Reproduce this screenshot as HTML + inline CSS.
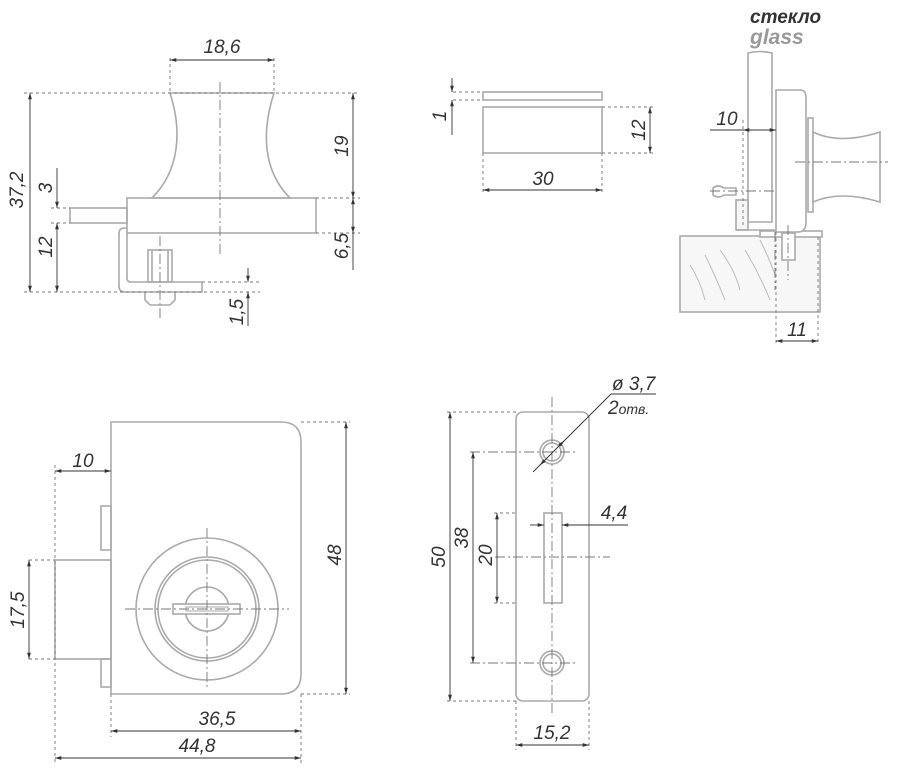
<!DOCTYPE html>
<html><head><meta charset="utf-8"><style>
html,body{margin:0;padding:0;background:#fff;}
svg{display:block;}
text{font-family:"Liberation Sans",sans-serif;font-style:italic;fill:#333;}
</style></head><body>
<svg width="900" height="775" viewBox="0 0 900 775" xmlns="http://www.w3.org/2000/svg">
<defs>
<marker id="a" viewBox="0 0 10 10" refX="10" refY="5" markerWidth="7" markerHeight="7" orient="auto-start-reverse"><path d="M0,2 L10,5 L0,8 z" fill="#333"/></marker>
</defs>
<g fill="none" stroke="#aaa" stroke-width="1.6">
<path d="M170,93 L274,93 C262,130 262,170 290,198 L152,198 C180,170 182,130 170,93 Z"/>
<rect x="127" y="198" width="189" height="35"/>
<rect x="70" y="208" width="57" height="15"/>
<path d="M127,228 L124,228 Q119,228 119,234 L119,286 Q119,292 125,292 L202,292 L202,282 L131,282 Q127,282 127,278 L127,233"/>
<rect x="148" y="250" width="24" height="32"/>
<line x1="152" y1="250" x2="152" y2="282"/><line x1="168" y1="250" x2="168" y2="282"/>
<path d="M145,292 L145,300 L150,305 L170,305 L175,300 L175,292"/>
<rect x="483" y="92" width="119" height="8"/>
<rect x="483" y="107" width="119" height="46"/>
<rect x="680" y="236" width="140" height="76" fill="#f7f7f7" stroke="#aaa"/>
<rect x="760" y="231" width="62" height="6" fill="#fff"/>
<path d="M748,53 L748,222 L772,222 L772,53 Q760,50 748,53 Z" fill="#fff"/>
<path d="M776,90 L800,90 Q806,90 806,98 L806,222 Q806,232 798,232 L776,232 Z" fill="#fff"/>
<rect x="736" y="200" width="12" height="30" fill="#f6f6f6"/>
<path d="M736,230 L776,230"/>
<path d="M713,188 Q718,184 724,188 L736,188 L736,195 L724,195 Q718,199 713,195 Z"/>
<rect x="808" y="118" width="5" height="94"/>
<path d="M813,132 Q840,145 880,132 L880,202 Q840,190 813,202 Z" fill="#fff"/>
<rect x="782" y="233" width="13" height="27" fill="#fff"/>
<path d="M690,265 Q700,280 705,300 M705,255 Q715,275 725,300 M720,250 Q735,270 740,290 M745,250 Q760,275 770,300 M760,240 Q770,260 775,275" stroke="#bbb" stroke-width="1"/>
<path d="M111,422 L281,422 Q301,422 301,442 L301,674 Q301,694 281,694 L111,694 Z"/>
<rect x="101" y="506" width="10" height="44"/>
<rect x="101" y="659" width="10" height="28"/>
<rect x="55" y="560" width="56" height="99"/>
<circle cx="207" cy="609" r="71"/>
<circle cx="207" cy="609" r="52"/>
<circle cx="207" cy="609" r="49"/>
<circle cx="207" cy="609" r="22"/>
<rect x="173" y="604" width="67" height="10" fill="#fff"/>
<rect x="186" y="607" width="42" height="4" stroke-width="1"/>
<rect x="516" y="412" width="73" height="289" rx="7"/>
<circle cx="552" cy="452" r="12"/><circle cx="552" cy="452" r="9"/>
<circle cx="552" cy="663" r="12"/><circle cx="552" cy="663" r="9"/>
<rect x="544" y="513" width="18" height="90"/>
</g>
<g fill="none" stroke="#777" stroke-width="0.9" stroke-dasharray="3,3">
<path d="M170,58 V93 M274,58 V93 M24,93 H360 M316,198 H360 M316,233 H360 M24,292 H260 M202,282 H260 M51,208 H70 M51,223 H70"/>
<path d="M480,92 H450 M480,100 H450 M602,107 H655 M602,153 H655 M483,153 V195 M602,153 V195"/>
<path d="M743,120 V228 M776,232 V345 M818,237 V345"/>
<path d="M55,465 V765 M111,694 V737 M301,694 V765 M29,560 H55 M29,659 H55 M301,422 H350 M301,694 H350"/>
<path d="M447,412 H516 M447,701 H516 M516,701 V750 M589,701 V750 M494,513 H516 M494,603 H516"/>
</g>
<g fill="none" stroke="#777" stroke-width="0.9" stroke-dasharray="10,3,2,3">
<path d="M220,82 V255 M160,236 V318 M795,162 H888 M710,191 H775 M788,225 V280 M775,232 V290"/>
<path d="M207,528 V690 M125,609 H289"/>
<path d="M552,397 V715 M470,452 H575 M470,663 H575 M495,557 H610"/>
</g>
<g fill="none" stroke="#333" stroke-width="0.9">
<line x1="170" y1="60" x2="274" y2="60" marker-start="url(#a)" marker-end="url(#a)"/>
<line x1="30" y1="93" x2="30" y2="292" marker-start="url(#a)" marker-end="url(#a)"/>
<line x1="353" y1="93" x2="353" y2="198" marker-start="url(#a)" marker-end="url(#a)"/>
<line x1="353" y1="198" x2="353" y2="233" marker-start="url(#a)" marker-end="url(#a)"/>
<line x1="353" y1="233" x2="353" y2="270"/>
<line x1="57" y1="168" x2="57" y2="208" marker-end="url(#a)"/>
<line x1="57" y1="223" x2="57" y2="292" marker-start="url(#a)" marker-end="url(#a)"/>
<line x1="248" y1="268" x2="248" y2="282" marker-end="url(#a)"/>
<line x1="248" y1="326" x2="248" y2="292" marker-end="url(#a)"/>
<line x1="452" y1="78" x2="452" y2="92" marker-end="url(#a)"/>
<line x1="452" y1="135" x2="452" y2="100" marker-end="url(#a)"/>
<line x1="650" y1="107" x2="650" y2="153" marker-start="url(#a)" marker-end="url(#a)"/>
<line x1="483" y1="190" x2="602" y2="190" marker-start="url(#a)" marker-end="url(#a)"/>
<line x1="710" y1="130" x2="743" y2="130"/>
<line x1="743" y1="130" x2="776" y2="130" marker-start="url(#a)" marker-end="url(#a)"/>
<line x1="776" y1="341" x2="818" y2="341" marker-start="url(#a)" marker-end="url(#a)"/>
<line x1="55" y1="471" x2="111" y2="471" marker-start="url(#a)" marker-end="url(#a)"/>
<line x1="346" y1="422" x2="346" y2="694" marker-start="url(#a)" marker-end="url(#a)"/>
<line x1="29" y1="560" x2="29" y2="659" marker-start="url(#a)" marker-end="url(#a)"/>
<line x1="111" y1="731" x2="301" y2="731" marker-start="url(#a)" marker-end="url(#a)"/>
<line x1="55" y1="758" x2="301" y2="758" marker-start="url(#a)" marker-end="url(#a)"/>
<line x1="450" y1="412" x2="450" y2="701" marker-start="url(#a)" marker-end="url(#a)"/>
<line x1="473" y1="452" x2="473" y2="663" marker-start="url(#a)" marker-end="url(#a)"/>
<line x1="497" y1="513" x2="497" y2="603" marker-start="url(#a)" marker-end="url(#a)"/>
<line x1="530" y1="525" x2="544" y2="525" marker-end="url(#a)"/>
<line x1="628" y1="525" x2="562" y2="525" marker-end="url(#a)"/>
<line x1="516" y1="745" x2="589" y2="745" marker-start="url(#a)" marker-end="url(#a)"/>
<line x1="533" y1="472" x2="611" y2="394"/>
<line x1="611" y1="394" x2="656" y2="394"/>
<line x1="545" y1="460" x2="540" y2="465" marker-end="url(#a)"/>
<line x1="559" y1="446" x2="564" y2="441" marker-end="url(#a)"/>
</g>
<g font-size="19">
<text x="222" y="53" text-anchor="middle">18,6</text>
<text transform="translate(23,190) rotate(-90)" text-anchor="middle">37,2</text>
<text transform="translate(348,146) rotate(-90)" text-anchor="middle">19</text>
<text transform="translate(348,246) rotate(-90)" text-anchor="middle">6,5</text>
<text transform="translate(52,188) rotate(-90)" text-anchor="middle">3</text>
<text transform="translate(52,247) rotate(-90)" text-anchor="middle">12</text>
<text transform="translate(243,312) rotate(-90)" text-anchor="middle">1,5</text>
<text transform="translate(446,116) rotate(-90)" text-anchor="middle">1</text>
<text transform="translate(645,130) rotate(-90)" text-anchor="middle">12</text>
<text x="543" y="185" text-anchor="middle">30</text>
<text x="727" y="125" text-anchor="middle">10</text>
<text x="797" y="336" text-anchor="middle">11</text>
<text x="83" y="467" text-anchor="middle">10</text>
<text transform="translate(341,555) rotate(-90)" text-anchor="middle">48</text>
<text transform="translate(24,610) rotate(-90)" text-anchor="middle">17,5</text>
<text x="217" y="725" text-anchor="middle">36,5</text>
<text x="197" y="752" text-anchor="middle">44,8</text>
<text transform="translate(445,557) rotate(-90)" text-anchor="middle">50</text>
<text transform="translate(468,538) rotate(-90)" text-anchor="middle">38</text>
<text transform="translate(492,555) rotate(-90)" text-anchor="middle">20</text>
<text x="614" y="519" text-anchor="middle">4,4</text>
<text x="552" y="739" text-anchor="middle">15,2</text>
<text x="612" y="390">ø 3,7</text>
<text x="608" y="414">2<tspan font-size="14">отв.</tspan></text>
<text x="750" y="23" font-weight="bold" fill="#222" font-size="19">стекло</text>
<text x="750" y="44" font-weight="bold" style="fill:#999" font-size="21">glass</text>
</g>
</svg>
</body></html>
